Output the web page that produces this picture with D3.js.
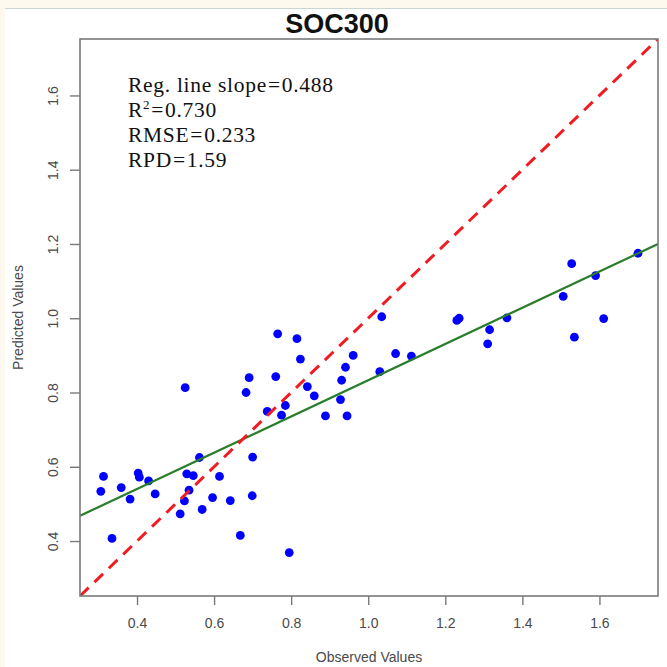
<!DOCTYPE html>
<html>
<head>
<meta charset="utf-8">
<script src="https://cdn.jsdelivr.net/npm/d3@7"></script>
<style>
  html, body { margin: 0; padding: 0; background: #ffffff; }
  svg { display: block; }
</style>
</head>
<body>
<svg id="chart" width="667" height="667"></svg>
<script>
// Observed vs. predicted SOC values (validation set)
const observed = [
  1.700, 1.528, 1.590, 1.506, 1.230, 1.236, 1.360, 1.611, 1.315, 1.310,
  1.535, 1.035, 0.765, 0.815, 0.824, 0.961, 1.071, 1.112, 0.941, 0.691,
  0.760, 0.683, 0.842, 0.860, 0.931, 1.030, 0.928, 0.738, 0.785, 0.775,
  0.889, 0.945, 0.525, 0.562, 0.700, 0.313, 0.403, 0.406, 0.430, 0.529,
  0.546, 0.614, 0.306, 0.359, 0.382, 0.447, 0.535, 0.523, 0.596, 0.642,
  0.699, 0.512, 0.569, 0.335, 0.668, 0.795
];
const predicted = [
  1.175, 1.147, 1.115, 1.059, 0.994, 1.000, 1.001, 0.999, 0.969, 0.931,
  0.949, 1.004, 0.958, 0.945, 0.890, 0.900, 0.905, 0.898, 0.868, 0.840,
  0.843, 0.800, 0.816, 0.791, 0.833, 0.856, 0.781, 0.749, 0.765, 0.739,
  0.737, 0.737, 0.813, 0.625, 0.626, 0.574, 0.583, 0.572, 0.562, 0.581,
  0.576, 0.574, 0.534, 0.544, 0.513, 0.527, 0.537, 0.508, 0.517, 0.509,
  0.522, 0.473, 0.485, 0.407, 0.415, 0.369
];

const xTicks = [0.4, 0.6, 0.8, 1.0, 1.2, 1.4, 1.6];
const yTicks = [0.4, 0.6, 0.8, 1.0, 1.2, 1.4, 1.6];
const axisLimits = [0.252, 1.752];

// Fitted regression line (slope as reported) and the 1:1 line
const regSlope = 0.488;
const regIntercept = 0.345;

const titleText = "SOC300";
const xLabel = "Observed Values";
const yLabel = "Predicted Values";
const statsLabels = ["Reg. line slope", "R", "RMSE", "RPD"];
const statsValues = ["0.488", "0.730", "0.233", "1.59"];

const svg = d3.select("#chart");
const W = 667, H = 667;
const box = { left: 80, right: 658, top: 39, bottom: 596 };

// page frame
svg.append("rect").attr("x", 0).attr("y", 0).attr("width", W).attr("height", H).attr("fill", "#ffffff");
svg.append("rect").attr("x", 0).attr("y", 0).attr("width", W).attr("height", 8).attr("fill", "#fef9ee");
svg.append("rect").attr("x", 0).attr("y", 0).attr("width", 5).attr("height", H).attr("fill", "#fef9ee");
svg.append("line").attr("x1", 5).attr("x2", W).attr("y1", 8.5).attr("y2", 8.5)
  .attr("stroke", "#c9d6d4").attr("stroke-width", 1);

const x = d3.scaleLinear().domain(axisLimits).range([box.left, box.right]);
const y = d3.scaleLinear().domain(axisLimits).range([box.bottom, box.top]);

svg.append("defs").append("clipPath").attr("id", "plot-clip")
  .append("rect")
  .attr("x", box.left).attr("y", box.top)
  .attr("width", box.right - box.left).attr("height", box.bottom - box.top);

const plot = svg.append("g").attr("clip-path", "url(#plot-clip)");

// points
plot.selectAll("circle.pt")
  .data(observed.map((o, i) => ({ o, p: predicted[i] })))
  .join("circle")
  .attr("class", "pt")
  .attr("cx", d => x(d.o))
  .attr("cy", d => y(d.p))
  .attr("r", 4.4)
  .attr("fill", "#0000ff");

// regression line
plot.append("line")
  .attr("x1", x(axisLimits[0])).attr("y1", y(regIntercept + regSlope * axisLimits[0]))
  .attr("x2", x(axisLimits[1])).attr("y2", y(regIntercept + regSlope * axisLimits[1]))
  .attr("stroke", "#2a7d2a").attr("stroke-width", 2.2);

// 1:1 line
plot.append("line")
  .attr("x1", x(axisLimits[0])).attr("y1", y(axisLimits[0]))
  .attr("x2", x(axisLimits[1])).attr("y2", y(axisLimits[1]))
  .attr("stroke", "#f01c24").attr("stroke-width", 3)
  .attr("stroke-dasharray", "12,8");

// plot frame
svg.append("rect")
  .attr("x", box.left).attr("y", box.top)
  .attr("width", box.right - box.left).attr("height", box.bottom - box.top)
  .attr("fill", "none").attr("stroke", "#7a7a7a").attr("stroke-width", 1.6);

const fmt = d3.format(".1f");
const tickColor = "#7a7a7a";
const labelColor = "#4a4a4a";

// x axis
const gx = svg.append("g")
  .attr("transform", `translate(0,${box.bottom})`)
  .call(d3.axisBottom(x).tickValues(xTicks).tickFormat(fmt).tickSize(9));
gx.select(".domain").remove();
gx.selectAll(".tick line").attr("stroke", tickColor).attr("stroke-width", 1.4);
gx.selectAll(".tick text")
  .attr("y", 32).attr("dy", 0)
  .attr("fill", labelColor)
  .style("font-family", "'Liberation Sans', Arial, sans-serif")
  .style("font-size", "14px");

// y axis with labels parallel to the axis
const gy = svg.append("g")
  .attr("transform", `translate(${box.left},0)`)
  .call(d3.axisLeft(y).tickValues(yTicks).tickFormat(fmt).tickSize(10));
gy.select(".domain").remove();
gy.selectAll(".tick line").attr("stroke", tickColor).attr("stroke-width", 1.4);
gy.selectAll(".tick text")
  .attr("transform", "rotate(-90)")
  .attr("x", 0).attr("y", -22).attr("dy", 0)
  .attr("text-anchor", "middle")
  .attr("fill", labelColor)
  .style("font-family", "'Liberation Sans', Arial, sans-serif")
  .style("font-size", "14px");

// title
svg.append("text")
  .attr("x", 337).attr("y", 33)
  .attr("text-anchor", "middle")
  .attr("fill", "#111")
  .style("font-family", "'Liberation Sans', Arial, sans-serif")
  .style("font-weight", "bold")
  .style("font-size", "27px")
  .text(titleText);

// axis titles
svg.append("text")
  .attr("x", (box.left + box.right) / 2).attr("y", 662)
  .attr("text-anchor", "middle")
  .attr("fill", labelColor)
  .style("font-family", "'Liberation Sans', Arial, sans-serif")
  .style("font-size", "14px")
  .text(xLabel);

svg.append("text")
  .attr("transform", `translate(23,${(box.top + box.bottom) / 2}) rotate(-90)`)
  .attr("text-anchor", "middle")
  .attr("fill", labelColor)
  .style("font-family", "'Liberation Sans', Arial, sans-serif")
  .style("font-size", "14px")
  .text(yLabel);

// statistics block; the equals sign gets a little extra room on each side
const stats = svg.append("g")
  .style("font-family", "'Liberation Serif', 'Times New Roman', serif")
  .style("font-size", "21.5px")
  .style("letter-spacing", "0.7px")
  .attr("fill", "#111");

statsLabels.forEach((lab, i) => {
  const t = stats.append("text").attr("x", 128).attr("y", 92 + i * 25);
  if (lab === "R") {
    t.append("tspan").text("R");
    t.append("tspan").attr("dy", -8).style("font-size", "13px").text("2");
    t.append("tspan").attr("dy", 8).attr("dx", 1).text("=");
  } else {
    t.append("tspan").text(lab);
    t.append("tspan").attr("dx", 1).text("=");
  }
  t.append("tspan").attr("dx", 1).text(statsValues[i]);
});
</script>
</body>
</html>
